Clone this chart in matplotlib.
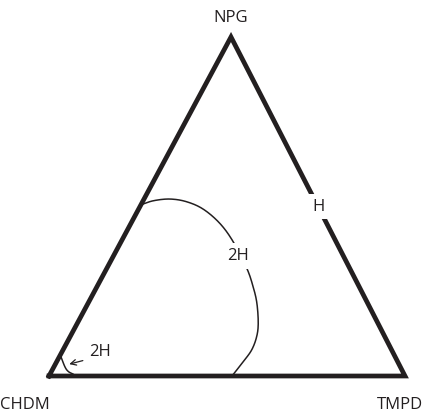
import numpy as np
import matplotlib
matplotlib.use('Agg')
import matplotlib.pyplot as plt

plt.rcParams['font.family'] = ['Open Sans', 'DejaVu Sans']

# corner components
components = ['CHDM', 'TMPD', 'NPG']

# 2H boundary, compositions as (TMPD fraction, NPG fraction)
boundary_tmpd = [0.000, 0.029, 0.073, 0.124, 0.182, 0.250, 0.315, 0.393, 0.439,
                 0.474, 0.508, 0.524, 0.530, 0.524, 0.514]
boundary_npg = [0.505, 0.517, 0.522, 0.514, 0.492, 0.450, 0.396, 0.318, 0.263,
                0.215, 0.156, 0.116, 0.077, 0.042, 0.000]

# small 2H pocket at the CHDM corner
pocket_tmpd = [0.000, 0.031, 0.048, 0.066, 0.072]
pocket_npg = [0.062, 0.027, 0.013, 0.005, 0.000]

# region labels: (text, TMPD fraction, NPG fraction)
region_labels = [('2H', 0.350, 0.354), ('H', 0.500, 0.500)]
pocket_label = ('2H', 0.106, 0.072)
pocket_arrow_tip = (0.039, 0.035)

# corner positions in the drawing frame
corner_xy = np.array([[49, 376], [405, 376], [231, 37]], dtype=float)
ink = '#231f20'


def to_xy(b, c):
    b = np.asarray(b, dtype=float)
    c = np.asarray(c, dtype=float)
    a = 1 - b - c
    x = a * corner_xy[0, 0] + b * corner_xy[1, 0] + c * corner_xy[2, 0]
    y = a * corner_xy[0, 1] + b * corner_xy[1, 1] + c * corner_xy[2, 1]
    return x, y


def smooth(x, y, n=20):
    # Catmull-Rom spline through the given points
    p = np.column_stack([x, y])
    p = np.vstack([2 * p[0] - p[1], p, 2 * p[-1] - p[-2]])
    out = []
    t = np.linspace(0, 1, n, endpoint=False)[:, None]
    for i in range(1, len(p) - 2):
        p0, p1, p2, p3 = p[i - 1], p[i], p[i + 1], p[i + 2]
        seg = 0.5 * ((2 * p1) + (-p0 + p2) * t
                     + (2 * p0 - 5 * p1 + 4 * p2 - p3) * t ** 2
                     + (-p0 + 3 * p1 - 3 * p2 + p3) * t ** 3)
        out.append(seg)
    out.append(p[-2][None, :])
    out = np.vstack(out)
    return out[:, 0], out[:, 1]


fig = plt.figure(figsize=(4.30, 4.17), dpi=100)
ax = fig.add_axes([0, 0, 1, 1])
ax.set_xlim(0, 430)
ax.set_ylim(417, 0)
ax.axis('off')

# triangle
tri = np.vstack([corner_xy, corner_xy[:1]])
ax.plot(tri[:, 0], tri[:, 1], color=ink, lw=3.4,
        solid_joinstyle='miter', zorder=2)

# 2H boundary
bx, by = to_xy(boundary_tmpd, boundary_npg)
sx, sy = smooth(bx, by)
ax.plot(sx, sy, color=ink, lw=1.1, zorder=3)

px, py = to_xy(pocket_tmpd, pocket_npg)
sx, sy = smooth(px, py)
ax.plot(sx, sy, color=ink, lw=1.1, zorder=3)

for text, b, c in region_labels:
    x, y = to_xy(b, c)
    ax.text(x, y, text, fontsize=12, ha='center', va='center', color=ink,
            bbox=dict(facecolor='white', edgecolor='none', pad=3.5), zorder=4)

lx, ly = to_xy(pocket_label[1], pocket_label[2])
tx, ty = to_xy(*pocket_arrow_tip)
ax.text(lx, ly, pocket_label[0], fontsize=12, ha='center', va='center', color=ink)
ax.annotate('', xy=(tx, ty), xytext=(lx - 17, ly + 9),
            arrowprops=dict(arrowstyle='->', color=ink, lw=0.9,
                            shrinkA=0, shrinkB=0))

# corner names
ax.text(25, 405, components[0], fontsize=12, ha='center', va='center', color=ink)
ax.text(400, 405, components[1], fontsize=12, ha='center', va='center', color=ink)
ax.text(231, 18, components[2], fontsize=12, ha='center', va='center', color=ink)

fig.savefig('out.png', dpi=100)
